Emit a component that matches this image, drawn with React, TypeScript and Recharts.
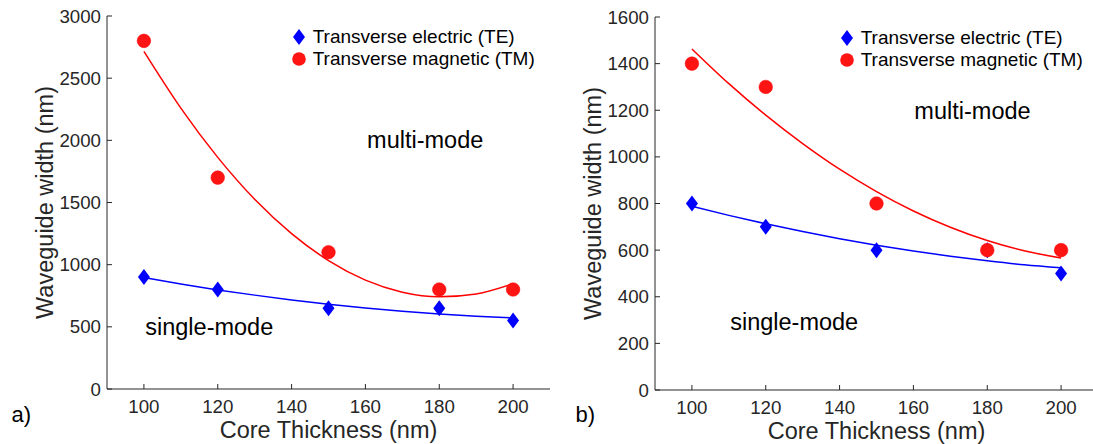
import { ComposedChart, Line, Scatter, XAxis, YAxis, Legend, Label, ReferenceDot } from "recharts";

const AXIS = "#262626";
const FONT = "'Liberation Sans', Arial, Helvetica, sans-serif";

// measured points (core thickness in nm)
const thickness = [100, 120, 150, 180, 200];
const teWidthA = [900, 800, 650, 650, 550];
const tmWidthA = [2800, 1700, 1100, 800, 800];
const teWidthB = [800, 700, 600, 600, 500];
const tmWidthB = [1400, 1300, 800, 600, 600];

// fitted curves, every 10 nm
const fitX = [100, 110, 120, 130, 140, 150, 160, 170, 180, 190, 200];
const teFitA = [896, 844, 797, 755, 716, 682, 651, 625, 603, 586, 572];
const tmFitA = [2715, 2259, 1863, 1526, 1250, 1033, 876, 779, 742, 765, 847];
const teFitB = [788, 749, 713, 680, 649, 621, 596, 574, 554, 537, 524];
const tmFitB = [1463, 1314, 1179, 1057, 947, 851, 768, 698, 641, 597, 566];

const xTicks = [100, 120, 140, 160, 180, 200];
const yTicksA = [0, 500, 1000, 1500, 2000, 2500, 3000];
const yTicksB = [0, 200, 400, 600, 800, 1000, 1200, 1400, 1600];

const zip = (xs: number[], ys: number[]) => xs.map((x, i) => ({ x, y: ys[i] }));

const BottomTick = ({ x, y, payload }: any) => (
  <g>
    <line x1={x} x2={x} y1={y} y2={y - 5} stroke={AXIS} />
    <text x={x} y={y + 24} textAnchor="middle" fontSize={18.7} fill={AXIS} fontFamily={FONT}>
      {payload.value}
    </text>
  </g>
);
const LeftTick = ({ x, y, payload }: any) => (
  <g>
    <line x1={x} x2={x + 5} y1={y} y2={y} stroke={AXIS} />
    <text x={x - 6} y={y + 6.6} textAnchor="end" fontSize={18.7} fill={AXIS} fontFamily={FONT}>
      {payload.value}
    </text>
  </g>
);
const TopTick = ({ x, y }: any) => <line x1={x} x2={x} y1={y} y2={y + 5} stroke={AXIS} />;
const RightTick = ({ x, y }: any) => <line x1={x} x2={x - 5} y1={y} y2={y} stroke={AXIS} />;

const Diamond = ({ cx, cy }: any) => (
  <polygon points={`${cx},${cy - 8} ${cx + 6},${cy} ${cx},${cy + 8} ${cx - 6},${cy}`} fill="#0000ff" />
);
const Dot = ({ cx, cy }: any) => <circle cx={cx} cy={cy} r={6.8} fill="#ff1414" stroke="#f00" strokeWidth={0.5} />;

const renderLegend = () => (
  <div style={{ fontFamily: FONT, fontSize: 19, color: "#000" }}>
    {[
      { name: "Transverse electric (TE)", mark: <polygon points="7,1 13,9 7,17 1,9" fill="#0000ff" /> },
      { name: "Transverse magnetic (TM)", mark: <circle cx={7} cy={9} r={6.8} fill="#ff1414" /> },
    ].map((r) => (
      <div key={r.name} style={{ display: "flex", alignItems: "center", height: 22, whiteSpace: "nowrap" }}>
        <svg width={14} height={18}>{r.mark}</svg>
        <span style={{ marginLeft: 6.7 }}>{r.name}</span>
      </div>
    ))}
  </div>
);

const note = (text: string) => ({ viewBox }: any) => (
  <text x={viewBox.x + viewBox.width / 2} y={viewBox.y + viewBox.height / 2} textAnchor="middle" fontSize={23.5} fill="#000" fontFamily={FONT}>
    {text}
  </text>
);

interface PanelProps {
  te: number[];
  tm: number[];
  teFit: number[];
  tmFit: number[];
  yMax: number;
  yTicks: number[];
  top: number;
  xAxisHeight: number;
  multi: [number, number];
  single: [number, number];
  legendTop: number;
}

const Panel = ({ te, tm, teFit, tmFit, yMax, yTicks, top, xAxisHeight, multi, single, legendTop }: PanelProps) => (
  <ComposedChart width={560} height={444} margin={{ top, right: 10, bottom: 0, left: 0 }}>
    <XAxis dataKey="x" type="number" domain={[90, 210]} ticks={xTicks} height={xAxisHeight} tickSize={0} tickMargin={0} tickLine={false} axisLine={{ stroke: AXIS }} tick={<BottomTick />}>
      <Label content={({ viewBox }: any) => (
        <text x={viewBox.x + viewBox.width / 2} y={viewBox.y + 49} textAnchor="middle" fontSize={23.5} fill={AXIS} fontFamily={FONT}>
          Core Thickness (nm)
        </text>
      )} />
    </XAxis>
    <XAxis xAxisId="top" orientation="top" dataKey="x" type="number" domain={[90, 210]} ticks={xTicks} height={0} tickSize={0} tickMargin={0} tickLine={false} axisLine={{ stroke: AXIS }} tick={<TopTick />} />
    <YAxis type="number" domain={[0, yMax]} ticks={yTicks} width={107} tickSize={0} tickMargin={0} tickLine={false} axisLine={{ stroke: AXIS }} tick={<LeftTick />}>
      <Label content={({ viewBox }: any) => {
        const cx = viewBox.x + viewBox.width - 54;
        const cy = viewBox.y + viewBox.height / 2;
        return (
          <text x={cx} y={cy} transform={`rotate(-90, ${cx}, ${cy})`} textAnchor="middle" fontSize={23.5} fill={AXIS} fontFamily={FONT}>
            Waveguide width (nm)
          </text>
        );
      }} />
    </YAxis>
    <YAxis yAxisId="right" orientation="right" type="number" domain={[0, yMax]} ticks={yTicks} width={0} tickSize={0} tickMargin={0} tickLine={false} axisLine={{ stroke: AXIS }} tick={<RightTick />} />
    <Legend layout="vertical" align="center" verticalAlign="middle" content={renderLegend} wrapperStyle={{ left: 292, top: legendTop, width: "auto", height: "auto" }} />
    <Line data={zip(fitX, teFit)} dataKey="y" type="monotone" stroke="#0000ff" strokeWidth={1.5} dot={false} isAnimationActive={false} />
    <Line data={zip(fitX, tmFit)} dataKey="y" type="monotone" stroke="#ff0000" strokeWidth={1.5} dot={false} isAnimationActive={false} />
    <Scatter data={zip(thickness, te)} dataKey="y" shape={<Diamond />} isAnimationActive={false} />
    <Scatter data={zip(thickness, tm)} dataKey="y" shape={<Dot />} isAnimationActive={false} />
    <ReferenceDot x={multi[0]} y={multi[1]} r={0} fill="none" stroke="none" ifOverflow="visible" label={{ content: note("multi-mode") }} />
    <ReferenceDot x={single[0]} y={single[1]} r={0} fill="none" stroke="none" ifOverflow="visible" label={{ content: note("single-mode") }} />
  </ComposedChart>
);

const tagStyle = (left: number): React.CSSProperties => ({
  position: "absolute",
  left,
  top: 404,
  fontFamily: FONT,
  fontSize: 22,
  lineHeight: "22px",
  color: "#000",
});

export default function App() {
  return (
    <div style={{ position: "absolute", left: 0, top: 0, width: 1093, height: 444, overflow: "hidden", background: "#fff" }}>
      <div style={{ position: "absolute", left: 0, top: 0 }}>
        <Panel te={teWidthA} tm={tmWidthA} teFit={teFitA} tmFit={tmFitA} yMax={3000} yTicks={yTicksA} top={16} xAxisHeight={55}
          multi={[176.2, 1935]} single={[117.7, 436]} legendTop={26} />
      </div>
      <div style={{ position: "absolute", left: 548, top: 0 }}>
        <Panel te={teWidthB} tm={tmWidthB} teFit={teFitB} tmFit={tmFitB} yMax={1600} yTicks={yTicksB} top={17} xAxisHeight={54}
          multi={[176, 1162]} single={[127.7, 258]} legendTop={27} />
      </div>
      <div style={tagStyle(11.5)}>a)</div>
      <div style={tagStyle(575.5)}>b)</div>
    </div>
  );
}
